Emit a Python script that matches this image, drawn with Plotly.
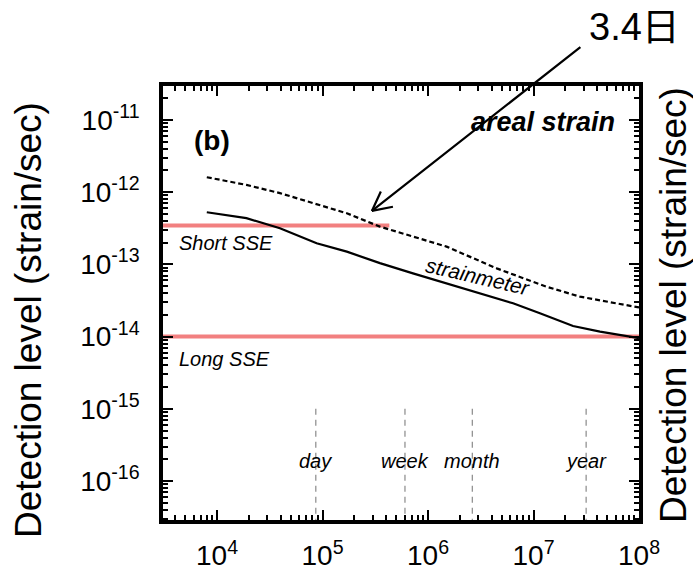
import numpy as np
import plotly.graph_objects as go

# ---------------- data ----------------
# strainmeter detection level (solid)
t_solid = [8.0e3, 1.9e4, 3.95e4, 8.8e4, 1.7e5, 3.5e5, 7.2e5, 1.5e6, 3.1e6, 6.4e6, 1.15e7, 2.37e7, 4.27e7, 1.0e8]
s_solid = [5.27e-13, 4.36e-13, 3.16e-13, 1.96e-13, 1.5e-13, 1.04e-13, 7.5e-14, 5.47e-14, 3.98e-14, 2.89e-14, 2.1e-14, 1.4e-14, 1.17e-14, 9.5e-15]

# dashed detection level
t_dash = [8.0e3, 1.9e4, 3.95e4, 8.1e4, 1.7e5, 3.5e5, 7.2e5, 1.5e6, 4.48e6, 1.33e7, 2.76e7, 8.8e7, 1.0e8]
s_dash = [1.61e-12, 1.26e-12, 9.7e-13, 7.0e-13, 5.1e-13, 3.33e-13, 2.42e-13, 1.76e-13, 8.8e-14, 4.9e-14, 3.57e-14, 2.6e-14, 2.53e-14]

# SSE strain-rate levels
short_sse_t = [1.0e3, 4.3e5]
short_sse_level = 3.44e-13
long_sse_t = [1.0e3, 1.0e8]
long_sse_level = 1.0e-14

# time markers
marker_names = ["day", "week", "month", "year"]
marker_secs = [86400, 604800, 2.63e6, 3.1536e7]
marker_y = [1e-15, 1e-17]

# arrow target (3.4 days)
arrow_days = 3.4
arrow_label = "3.4日"

# ticks
x_tickvals = [1e4, 1e5, 1e6, 1e7, 1e8]
x_ticktext = ["10<sup>4</sup>", "10<sup>5</sup>", "10<sup>6</sup>", "10<sup>7</sup>", "10<sup>8</sup>"]
y_tickvals = [1e-11, 1e-12, 1e-13, 1e-14, 1e-15, 1e-16]
y_ticktext = ["10<sup>-11</sup>", "10<sup>-12</sup>", "10<sup>-13</sup>", "10<sup>-14</sup>", "10<sup>-15</sup>", "10<sup>-16</sup>"]

ytitle = "Detection level (strain/sec)"

# ---------------- figure ----------------
W, H = 693, 570
ML, MR, MT, MB = 163, 54, 86, 50
PW, PH = W - ML - MR, H - MT - MB


def px(xp, yp):
    return (xp - ML) / PW, (H - MB - yp) / PH


FONT = "Liberation Sans, Arial, Noto Sans CJK JP, sans-serif"
PINK = "#F28080"
TICKC = "black"

fig = go.Figure()

fig.add_trace(go.Scatter(x=short_sse_t, y=[short_sse_level] * 2, mode="lines",
                         line=dict(color=PINK, width=4), showlegend=False, hoverinfo="skip"))
fig.add_trace(go.Scatter(x=long_sse_t, y=[long_sse_level] * 2, mode="lines",
                         line=dict(color=PINK, width=4), showlegend=False, hoverinfo="skip"))

for s in marker_secs:
    fig.add_trace(go.Scatter(x=[s, s], y=marker_y, mode="lines",
                             line=dict(color="#8a8a8a", width=1.2, dash="6px,5px"),
                             showlegend=False, hoverinfo="skip"))

fig.add_trace(go.Scatter(x=t_dash, y=s_dash, mode="lines",
                         line=dict(color="black", width=2.2, dash="5px,3px"), showlegend=False))
fig.add_trace(go.Scatter(x=t_solid, y=s_solid, mode="lines",
                         line=dict(color="black", width=2.2), showlegend=False))

minor_x = [k * 10 ** n for n in range(3, 8) for k in range(2, 10)]
minor_y = [k * 10 ** n for n in range(-17, -10) for k in range(2, 10)]

axis_common = dict(type="log", showgrid=False, zeroline=False, showline=True,
                   linecolor="black", linewidth=3.5, mirror="allticks", automargin=False,
                   ticks="inside", ticklen=10, tickwidth=2.2, tickcolor=TICKC, layer="above traces",
                   tickfont=dict(family=FONT, size=28, color="black"))

fig.update_xaxes(range=[3.488, 8.0], tickmode="array", tickvals=x_tickvals, ticktext=x_ticktext,
                 ticklabelstandoff=8,
                 minor=dict(tickmode="array", tickvals=minor_x, ticks="inside", ticklen=5,
                            tickwidth=1.8, tickcolor=TICKC, showgrid=False),
                 **axis_common)
fig.update_yaxes(range=[-16.54, -10.53], tickmode="array", tickvals=y_tickvals, ticktext=y_ticktext,
                 ticklabelstandoff=14,
                 minor=dict(tickmode="array", tickvals=minor_y, ticks="inside", ticklen=5,
                            tickwidth=1.8, tickcolor=TICKC, showgrid=False),
                 **axis_common)

ann = []


def txt(text, xp, yp, size, xanchor="center", bold=False, italic=False, angle=0):
    x, y = px(xp, yp)
    t = text
    if bold:
        t = "<b>" + t + "</b>"
    if italic:
        t = "<i>" + t + "</i>"
    ann.append(dict(text=t, x=x, y=y, xref="paper", yref="paper", xanchor=xanchor, yanchor="middle",
                    showarrow=False, textangle=angle, font=dict(family=FONT, size=size, color="black")))


txt("(b)", 212, 140, 28, bold=True)
txt("areal strain", 617, 122, 27, xanchor="right", bold=True, italic=True)
txt("Short SSE", 177, 243, 20, xanchor="left", italic=True)
txt("Long SSE", 177, 359, 20, xanchor="left", italic=True)
txt("strainmeter", 478, 276, 21, italic=True, angle=13)
txt(ytitle, 28, 320, 37, angle=-90)
txt(ytitle, 673, 305, 37, angle=-90)
txt(arrow_label, 634, 27, 38)

for name, s in zip(marker_names, marker_secs):
    _, y = px(0, 461)
    ann.append(dict(text="<i>" + name + "</i>", x=np.log10(s), y=y, xref="x", yref="paper",
                    xanchor="center", yanchor="middle",
                    showarrow=False, font=dict(family=FONT, size=20, color="black")))

# arrow pointing at 3.4 days
tip_x = np.log10(arrow_days * 86400)
tip_y = -12.26
ann.append(dict(text="", x=tip_x, y=tip_y, xref="x", yref="y", ax=210, ay=-165,
                showarrow=True, arrowhead=0, arrowwidth=2.2, arrowcolor="black", standoff=0))
shaft = np.arctan2(-165, 210)
for d in (+27, -27):
    a = shaft + np.radians(d)
    ann.append(dict(text="", x=tip_x, y=tip_y, xref="x", yref="y",
                    ax=23 * np.cos(a), ay=23 * np.sin(a),
                    showarrow=True, arrowhead=0, arrowwidth=2.2, arrowcolor="black", standoff=0))

fig.update_layout(width=W, height=H, margin=dict(l=ML, r=MR, t=MT, b=MB, autoexpand=False),
                  paper_bgcolor="white", plot_bgcolor="white", annotations=ann,
                  font=dict(family=FONT, color="black"), showlegend=False)

fig.write_html("out.html")
